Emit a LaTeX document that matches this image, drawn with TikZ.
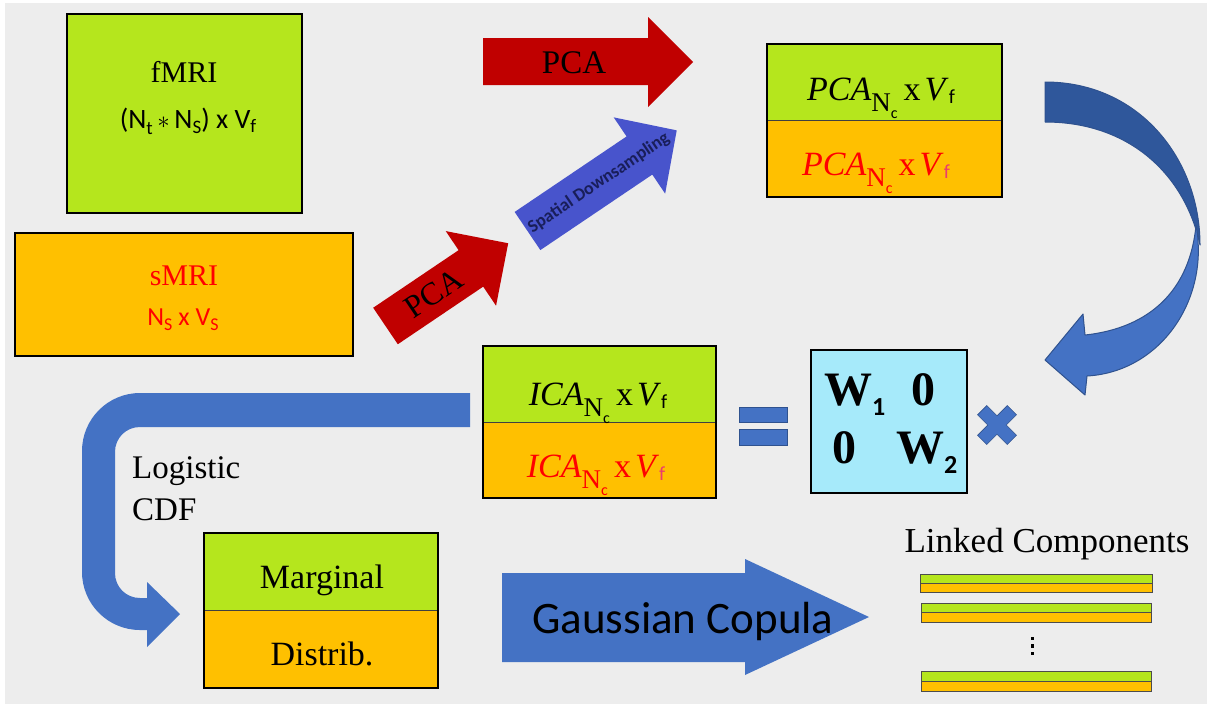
\documentclass[tikz,border=0pt]{standalone}
\usepackage{fontspec}
\setmainfont{Liberation Serif}
\newfontfamily\calib{Carlito}
\definecolor{gr}{RGB}{181,230,29}
\definecolor{og}{RGB}{255,192,0}
\definecolor{rd}{RGB}{192,0,0}
\definecolor{bl}{RGB}{68,114,196}
\definecolor{bld}{RGB}{47,87,155}
\definecolor{blo}{RGB}{47,82,143}
\definecolor{vio}{RGB}{72,84,204}
\definecolor{cy}{RGB}{166,234,250}
\definecolor{bgc}{RGB}{237,237,237}
\definecolor{txr}{RGB}{255,0,0}
\definecolor{pk}{RGB}{235,60,110}
\definecolor{navy}{RGB}{25,30,90}
\newcommand{\dimform}[2]{\textit{#1}\raisebox{-11pt}{\fontsize{27}{27}\selectfont N\raisebox{-7pt}{\calib\fontsize{16}{16}\selectfont c}}\hspace{6pt}x\hspace{4pt}\textit{V}\raisebox{-3pt}{\calib\fontsize{20}{20}\selectfont\color{#2}f}}
\begin{document}
\begin{tikzpicture}[x=1pt,y=-1pt,
  box/.style={draw=black,line width=1.8pt},
  divl/.style={draw=black!75,line width=0.9pt},
  fs/.style={font=\fontsize{#1}{#1}\selectfont},
  lbl/.style={inner sep=0pt,anchor=base},
  bar/.style={draw=black!70,line width=0.8pt}]
\useasboundingbox (0,0) rectangle (1209,705);
\fill[white] (0,0) rectangle (1209,705);
\fill[bgc] (5,3) rectangle (1207,704);

% fMRI box
\draw[box,fill=gr] (67,14) rectangle (302,213);
\node[lbl,fs=30] (fmri) at (184,82) {fMRI};
\node[lbl,font=\calib\fontsize{28}{28}\selectfont] (fdim) at (188,128)
  {(N\raisebox{-6pt}{\fontsize{19}{19}\selectfont t}\,$\ast$\,N\raisebox{-5pt}{\fontsize{19}{19}\selectfont S}) x V\raisebox{-4pt}{\fontsize{19}{19}\selectfont f}};

% sMRI box
\draw[box,fill=og] (15,233) rectangle (353,356);
\node[lbl,fs=30,text=txr] (smri) at (184,285) {sMRI};
\node[lbl,font=\calib\fontsize{26}{26}\selectfont,text=txr] (sdim) at (183,325)
  {N\raisebox{-5pt}{\fontsize{18}{18}\selectfont S} x V\raisebox{-5pt}{\fontsize{18}{18}\selectfont S}};

% top PCA arrow
\fill[rd] (483,38) -- (648,38) -- (648,17) -- (693,62) -- (648,107) -- (648,85) -- (483,85) -- cycle;
\node[lbl,fs=33] (pcatop) at (574,73) {PCA};

% diagonal PCA arrow
\begin{scope}[shift={(385.5,326)},rotate=34]
\fill[rd] (0,-22) -- (103,-22) -- (103,-45) -- (148,0) -- (103,45) -- (103,22) -- (0,22) -- cycle;
\node[inner sep=0pt,fs=32,rotate=34] (pcadiag) at (58,0) {PCA};
\end{scope}

% spatial downsampling arrow
\begin{scope}[shift={(527.5,231)},rotate=34]
\fill[vio] (0,-23) -- (135,-23) -- (135,-46) -- (180,0) -- (135,46) -- (135,23) -- (0,23) -- cycle;
\node[inner sep=0pt,font=\calib\bfseries\fontsize{18}{18}\selectfont,text=navy,rotate=34] (sds) at (86,0) {Spatial Downsampling};
\end{scope}

% PCA box
\draw[fill=gr] (767,44) rectangle (1002,120);
\draw[fill=og] (767,120) rectangle (1002,197);
\draw[divl] (767,120) -- (1002,120);
\draw[box] (767,44) rectangle (1002,197);
\node[lbl,fs=34] (pcaf) at (881,100) {\dimform{PCA}{black}};
\node[lbl,fs=34,text=txr] (pcas) at (876,175) {\dimform{PCA}{pk}};

% curved arrow
\draw[fill=bld,draw=blo,line width=1pt,line join=round]
  (1045,82) .. controls (1140,82) and (1200,160) .. (1200,245)
  .. controls (1185,175) and (1130,122) .. (1045,122) -- cycle;
\draw[fill=bl,draw=blo,line width=1pt,line join=round]
  (1196,225) .. controls (1210,300) and (1160,372) .. (1087,376)
  -- (1085,395) -- (1045,360) -- (1083,314) -- (1085,335)
  .. controls (1150,328) and (1190,290) .. (1196,225) -- cycle;

% ICA box
\draw[fill=gr] (483,346) rectangle (716,422);
\draw[fill=og] (483,422) rectangle (716,498);
\draw[divl] (483,422) -- (716,422);
\draw[box] (483,346) rectangle (716,498);
\node[lbl,fs=34] (icaf) at (598,405) {\dimform{ICA}{black}};
\node[lbl,fs=34,text=txr] (icas) at (596,477) {\dimform{ICA}{pk}};

% equals
\draw[fill=bl,draw=blo,line width=0.6pt] (739,407) rectangle (787,422);
\draw[fill=bl,draw=blo,line width=0.6pt] (739,429) rectangle (787,445);

% matrix
\draw[box,fill=cy] (811,350) rectangle (967,493);
\node[lbl,anchor=base west,font=\bfseries\fontsize{48}{48}\selectfont] (w1) at (824,405)
  {W\raisebox{-10pt}{\calib\bfseries\fontsize{26}{26}\selectfont 1}};
\node[lbl,font=\bfseries\fontsize{48}{48}\selectfont] (z1) at (923,405) {0};
\node[lbl,font=\bfseries\fontsize{48}{48}\selectfont] (z2) at (844,463) {0};
\node[lbl,anchor=base west,font=\bfseries\fontsize{48}{48}\selectfont] (w2) at (896,463)
  {W\raisebox{-10pt}{\calib\bfseries\fontsize{26}{26}\selectfont 2}};

% multiply cross
\begin{scope}[shift={(997,425)},rotate=45]
\draw[fill=bl,draw=blo,line width=0.6pt] (-6.5,-21) -- (6.5,-21) -- (6.5,-6.5) -- (21,-6.5) -- (21,6.5) -- (6.5,6.5)
  -- (6.5,21) -- (-6.5,21) -- (-6.5,6.5) -- (-21,6.5) -- (-21,-6.5) -- (-6.5,-6.5) -- cycle;
\end{scope}

% bent arrow
\fill[bl] (470,393) -- (140,393) .. controls (108,393) and (82,419) .. (82,451)
  -- (82,572) .. controls (82,604) and (108,630) .. (140,630)
  -- (147,630) -- (147,647) -- (180,614) -- (147,582) -- (147,598) -- (140,598)
  .. controls (126,598) and (115,587) .. (115,573)
  -- (115,452) .. controls (115,438) and (126,427) .. (140,427)
  -- (470,427) -- cycle;
\node[lbl,anchor=base west,fs=33] (logi) at (132,478) {Logistic};
\node[lbl,anchor=base west,fs=33] (cdf) at (132,520) {CDF};

% marginal box
\draw[fill=gr] (204,533) rectangle (438,610);
\draw[fill=og] (204,610) rectangle (438,688);
\draw[divl] (204,610) -- (438,610);
\draw[box] (204,533) rectangle (438,688);
\node[lbl,fs=34] (marg) at (322,588) {Marginal};
\node[lbl,fs=34] (distr) at (322,665) {Distrib.};

% Gaussian copula arrow
\fill[bl] (502,573) -- (745,573) -- (745,559) -- (869,617) -- (745,675) -- (745,662) -- (502,662) -- cycle;
\node[lbl,font=\calib\fontsize{45}{45}\selectfont] (gc) at (683,633) {Gaussian Copula};

% linked components
\node[lbl,fs=35] (lc) at (1047,552) {Linked Components};
\draw[bar,fill=gr] (920,574) rectangle (1152,583);
\draw[bar,fill=og] (920,583) rectangle (1152,592);
\draw[bar,fill=gr] (921,603) rectangle (1151,612);
\draw[bar,fill=og] (921,612) rectangle (1151,622);
\draw[bar,fill=gr] (921,671) rectangle (1151,681);
\draw[bar,fill=og] (921,681) rectangle (1151,691);
\fill[black] (1030.5,636.5) rectangle (1034,640);
\fill[black] (1030.5,644) rectangle (1034,647.5);
\fill[black] (1030.5,651.5) rectangle (1034,655);
\end{tikzpicture}
\end{document}
